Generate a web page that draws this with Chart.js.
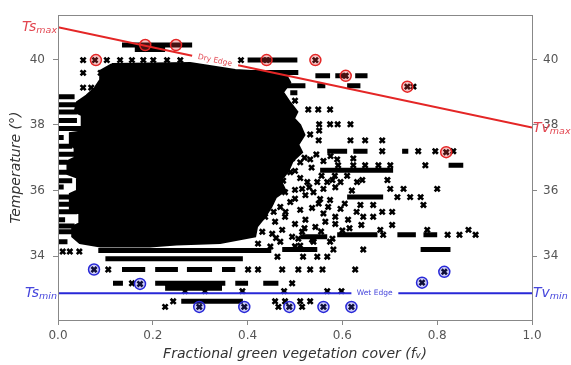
<!DOCTYPE html>
<html>
<head>
<meta charset="utf-8">
<script src="https://cdn.jsdelivr.net/npm/chart.js@4.4.0/dist/chart.umd.min.js"></script>
<style>html,body{margin:0;padding:0;background:#fff}</style>
</head>
<body>
<canvas id="c" width="571" height="365"></canvas>
<script>
// axis ticks
const xTicks = [0, 0.2, 0.4, 0.6, 0.8, 1.0];
const yTicks = [34, 36, 38, 40];

// dry edge (red) and wet edge (blue), broken where the label sits
const dryEdgeX = [0, 0.283, 0.38, 1];
const dryEdgeY = [40.98, 40.11, 39.82, 37.92];
const wetEdgeX = [0, 0.619, 0.718, 1];
const wetEdgeY = [32.87, 32.87, 32.87, 32.87];

// outline of the solid black cloud of pixels
const blob = [
  [0.114, 39.86], [0.279, 39.89], [0.374, 39.68], [0.479, 39.59], [0.49, 39.3], [0.475, 39.0],
  [0.49, 38.68], [0.505, 38.4], [0.498, 38.2], [0.511, 38.0], [0.52, 37.7], [0.507, 37.4],
  [0.515, 37.17], [0.495, 36.9], [0.486, 36.6], [0.47, 36.3], [0.48, 36.0], [0.46, 35.8],
  [0.45, 35.5], [0.437, 35.2], [0.42, 34.9], [0.416, 34.6], [0.342, 34.4], [0.25, 34.35],
  [0.194, 34.29], [0.089, 34.29], [0.046, 34.4], [0.03, 34.6], [0.03, 34.9], [0.045, 35.0],
  [0.045, 35.3], [0.025, 35.4], [0.025, 35.9], [0.04, 36.0], [0.04, 36.4], [0.02, 36.5],
  [0.02, 36.9], [0.035, 37.0], [0.035, 37.3], [0.025, 37.4], [0.025, 37.75], [0.05, 37.8],
  [0.05, 38.3], [0.035, 38.4], [0.04, 38.7], [0.06, 38.9], [0.078, 39.14], [0.09, 39.4],
  [0.089, 39.65], [0.114, 39.86]
];

// rows of overlapping markers [xStart, xEnd, y]
const bands = [
  [0.135, 0.283, 40.44], [0.162, 0.226, 40.3], [0.40, 0.505, 39.98], [0.378, 0.507, 39.6],
  [0.543, 0.574, 39.5], [0.585, 0.61, 39.5], [0.627, 0.653, 39.5],
  [0.475, 0.522, 39.2], [0.547, 0.564, 39.2], [0.61, 0.638, 39.2], [0.49, 0.505, 38.98],
  [0.568, 0.61, 37.2], [0.623, 0.653, 37.2], [0.726, 0.739, 37.2], [0.824, 0.855, 36.77],
  [0.553, 0.707, 36.62], [0.61, 0.686, 35.8],
  [0.589, 0.674, 34.65], [0.716, 0.755, 34.65], [0.771, 0.80, 34.65], [0.511, 0.568, 34.59],
  [0.765, 0.828, 34.2], [0.473, 0.547, 34.2], [0.085, 0.45, 34.17], [0.10, 0.39, 33.92],
  [0.135, 0.184, 33.59], [0.205, 0.253, 33.59], [0.272, 0.325, 33.59], [0.346, 0.374, 33.59],
  [0.116, 0.137, 33.17], [0.205, 0.353, 33.17], [0.374, 0.401, 33.17], [0.433, 0.465, 33.17],
  [0.226, 0.346, 33.02], [0.26, 0.39, 32.62]
];
const leftStreaks = [
  [0, 0.035, 38.86], [0, 0.045, 38.62], [0, 0.04, 38.4], [0, 0.04, 38.14], [0, 0.06, 37.89],
  [0, 0.012, 37.62], [0, 0.03, 37.35], [0, 0.05, 37.11], [0, 0.02, 36.86], [0, 0.07, 36.56],
  [0, 0.03, 36.3], [0, 0.012, 36.11], [0, 0.03, 35.8], [0, 0.05, 35.58], [0, 0.04, 35.35],
  [0, 0.015, 35.11], [0, 0.035, 34.92], [0, 0.06, 34.74], [0, 0.02, 34.44]
];

// single pixels
const topPoints = [
  [0.053, 39.98], [0.078, 39.98], [0.103, 39.98], [0.131, 39.98], [0.156, 39.98], [0.18, 39.98],
  [0.201, 39.98], [0.23, 39.98], [0.258, 39.98], [0.053, 39.59], [0.09, 39.59], [0.053, 39.14],
  [0.07, 39.14], [0.386, 39.98], [0.44, 39.98], [0.543, 39.98], [0.607, 39.5], [0.737, 39.17],
  [0.75, 39.17], [0.50, 38.74], [0.528, 38.47], [0.549, 38.47], [0.574, 38.47],
  [0.551, 38.02], [0.574, 38.02], [0.59, 38.02], [0.617, 38.02], [0.551, 37.83], [0.532, 37.71],
  [0.55, 37.53], [0.617, 37.53], [0.648, 37.53], [0.684, 37.53],
  [0.684, 37.2], [0.76, 37.2], [0.796, 37.2], [0.819, 37.17], [0.834, 37.2]
];
const rightPoints = [
  [0.591, 36.77], [0.623, 36.77], [0.648, 36.77], [0.676, 36.77], [0.701, 36.77], [0.775, 36.77],
  [0.579, 36.32], [0.642, 36.32], [0.695, 36.32], [0.701, 36.05], [0.729, 36.05], [0.80, 36.05],
  [0.716, 35.8], [0.743, 35.8], [0.765, 35.8], [0.638, 35.56], [0.665, 35.56], [0.771, 35.56],
  [0.684, 35.35], [0.705, 35.35], [0.644, 35.2], [0.665, 35.2], [0.705, 34.95],
  [0.68, 34.8], [0.779, 34.8], [0.866, 34.8], [0.686, 34.65], [0.822, 34.65], [0.847, 34.65],
  [0.881, 34.65], [0.581, 34.2], [0.644, 34.2]
];
const fringePoints = [
  [0.475, 37.11], [0.494, 36.98], [0.511, 36.86], [0.532, 36.95], [0.589, 36.95], [0.623, 36.98],
  [0.469, 36.71], [0.49, 36.56], [0.511, 36.38], [0.526, 36.26], [0.547, 36.26], [0.568, 36.26],
  [0.596, 36.26], [0.631, 36.26], [0.458, 36.11], [0.479, 35.95], [0.50, 36.02], [0.522, 35.86],
  [0.539, 35.95], [0.448, 35.65], [0.469, 35.5], [0.49, 35.65], [0.511, 35.41], [0.536, 35.47],
  [0.553, 35.74], [0.574, 35.71], [0.596, 35.44], [0.437, 35.2], [0.458, 35.05], [0.479, 35.2],
  [0.50, 34.98], [0.522, 35.11], [0.543, 34.89], [0.564, 35.05], [0.585, 34.98], [0.612, 35.11],
  [0.431, 34.74], [0.452, 34.68], [0.473, 34.8], [0.494, 34.59], [0.515, 34.74], [0.536, 34.5],
  [0.422, 34.38], [0.448, 34.29], [0.469, 34.44], [0.511, 34.32], [0.539, 34.44], [0.574, 34.44],
  [0.52, 37.0], [0.545, 37.1], [0.56, 36.9], [0.575, 37.05], [0.535, 36.7], [0.556, 36.45],
  [0.584, 36.45], [0.61, 36.45], [0.53, 36.1], [0.56, 36.05], [0.585, 36.1], [0.62, 36.0],
  [0.55, 35.6], [0.57, 35.5], [0.605, 35.6], [0.63, 35.35], [0.56, 35.3], [0.585, 35.2],
  [0.615, 34.85], [0.64, 34.95], [0.555, 34.75], [0.6, 34.78], [0.5, 34.3], [0.52, 34.85],
  [0.46, 34.55], [0.48, 35.35], [0.5, 35.75], [0.455, 35.35], [0.475, 36.3], [0.5, 36.6], [0.515, 36.05]
];
const lowPoints = [
  [0.01, 34.14], [0.025, 34.14], [0.045, 34.14], [0.053, 34.53], [0.507, 34.53], [0.539, 34.53],
  [0.579, 34.53], [0.463, 33.98], [0.517, 33.98], [0.547, 33.98], [0.568, 33.98],
  [0.076, 33.59], [0.106, 33.59], [0.401, 33.59], [0.422, 33.59], [0.473, 33.59], [0.507, 33.59],
  [0.532, 33.59], [0.558, 33.59], [0.627, 33.59], [0.156, 33.17], [0.173, 33.15], [0.494, 33.17],
  [0.268, 32.93], [0.31, 32.93], [0.389, 32.93], [0.477, 32.93], [0.568, 32.93], [0.598, 32.93],
  [0.243, 32.62], [0.458, 32.62], [0.479, 32.62], [0.511, 32.62], [0.532, 32.62],
  [0.226, 32.45], [0.298, 32.45], [0.393, 32.45], [0.465, 32.45], [0.488, 32.45], [0.515, 32.45],
  [0.56, 32.45], [0.619, 32.45], [0.768, 33.19], [0.815, 33.52]
];

// highlighted extremes
const dryPoints = [[0.08, 39.98], [0.184, 40.44], [0.249, 40.44], [0.44, 39.98], [0.543, 39.98],
  [0.607, 39.5], [0.737, 39.17], [0.819, 37.17]];
const wetPoints = [[0.076, 33.59], [0.173, 33.15], [0.298, 32.45], [0.393, 32.45], [0.488, 32.45],
  [0.56, 32.45], [0.619, 32.45], [0.768, 33.19], [0.815, 33.52]];

const RED = 'rgb(228,38,38)';
const BLUE = 'rgb(40,40,215)';
const FONT = 'DejaVu Sans';

const xy = arr => arr.map(p => ({ x: p[0], y: p[1] }));
const seg = (xs, ys) => xs.map((x, i) => ({ x, y: ys[i] }));
const segs = list => {
  const out = [];
  list.forEach(b => { out.push({ x: b[0], y: b[2] }, { x: b[1], y: b[2] }, { x: b[1], y: null }); });
  return out;
};

const markerStyle = { showLine: false, pointStyle: 'crossRot', pointRadius: 3.6, pointBorderWidth: 2.6,
  borderColor: '#000', backgroundColor: '#000', order: 3 };
const bandStyle = { showLine: true, borderColor: '#000', borderWidth: 5, pointRadius: 0, spanGaps: false,
  tension: 0, order: 4 };

const datasets = [
  { data: seg(dryEdgeX.slice(0, 2), dryEdgeY.slice(0, 2)), showLine: true, borderColor: RED, borderWidth: 2, pointRadius: 0, order: 0 },
  { data: seg(dryEdgeX.slice(2), dryEdgeY.slice(2)), showLine: true, borderColor: RED, borderWidth: 2, pointRadius: 0, order: 0 },
  { data: seg(wetEdgeX.slice(0, 2), wetEdgeY.slice(0, 2)), showLine: true, borderColor: BLUE, borderWidth: 2, pointRadius: 0, order: 0 },
  { data: seg(wetEdgeX.slice(2), wetEdgeY.slice(2)), showLine: true, borderColor: BLUE, borderWidth: 2, pointRadius: 0, order: 0 },
  { data: xy(dryPoints), pointStyle: 'circle', pointRadius: 5.5, pointBorderWidth: 1.5,
    borderColor: RED, backgroundColor: 'rgba(228,60,60,0.3)', order: 1 },
  { data: xy(wetPoints), pointStyle: 'circle', pointRadius: 5.5, pointBorderWidth: 1.5,
    borderColor: BLUE, backgroundColor: 'rgba(60,60,228,0.25)', order: 1 },
  Object.assign({ data: xy(topPoints.concat(rightPoints, fringePoints, lowPoints)) }, markerStyle),
  Object.assign({ data: segs(bands.concat(leftStreaks)) }, bandStyle),
  { data: xy(blob), showLine: true, fill: 'shape', tension: 0, borderColor: '#000', backgroundColor: '#000',
    borderWidth: 2, pointRadius: 0, order: 5 }
];

const tickFont = { family: FONT, size: 12 };
const yAxis = (pos, width) => ({
  type: 'linear', position: pos, min: 32.05, max: 41.35,
  afterBuildTicks: s => { s.ticks = yTicks.map(v => ({ value: v })); },
  afterFit: s => { s.width = width; },
  ticks: { color: '#555', font: tickFont, padding: pos === 'left' ? 8 : 6, callback: v => String(v) },
  grid: { drawOnChartArea: false, tickLength: 5, color: '#888' },
  border: { display: false }
});

// frame, edge names and Ts/Tv labels
const labelPlugin = {
  id: 'edgeLabels',
  afterDatasetsDraw(chart) {
    const { ctx, chartArea: a, scales } = chart;
    const x = scales.x, y = scales.y;
    ctx.save();
    ctx.strokeStyle = '#888';
    ctx.lineWidth = 1;
    ctx.strokeRect(Math.round(a.left) + 0.5, Math.round(a.top) + 0.5, Math.round(a.right - a.left), Math.round(a.bottom - a.top));

    const sub = (px, py, main, s, color, alignRight) => {
      ctx.fillStyle = color;
      ctx.textBaseline = 'alphabetic';
      ctx.textAlign = 'left';
      ctx.font = 'italic 14px "' + FONT + '"';
      const w1 = ctx.measureText(main).width;
      ctx.font = 'italic 9.5px "' + FONT + '"';
      const w2 = ctx.measureText(s).width;
      const x0 = alignRight ? px - w1 - w2 : px;
      ctx.font = 'italic 14px "' + FONT + '"';
      ctx.fillText(main, x0, py + 4);
      ctx.font = 'italic 9.5px "' + FONT + '"';
      ctx.fillText(s, x0 + w1, py + 6);
    };
    const redText = 'rgb(226,70,80)', blueText = 'rgb(70,70,220)';
    sub(a.left - 1, y.getPixelForValue(dryEdgeY[0]), 'Ts', 'max', redText, true);
    sub(a.right + 1, y.getPixelForValue(dryEdgeY[3]), 'Tv', 'max', redText, false);
    sub(a.left - 1, y.getPixelForValue(wetEdgeY[0]), 'Ts', 'min', blueText, true);
    sub(a.right + 1, y.getPixelForValue(wetEdgeY[3]), 'Tv', 'min', blueText, false);

    const x0 = x.getPixelForValue(dryEdgeX[0]), y0 = y.getPixelForValue(dryEdgeY[0]);
    const x1 = x.getPixelForValue(dryEdgeX[3]), y1 = y.getPixelForValue(dryEdgeY[3]);
    const ang = Math.atan2(y1 - y0, x1 - x0);
    const cx = x.getPixelForValue(0.331);
    const cy = y0 + (cx - x0) * Math.tan(ang);
    ctx.font = '7.5px "' + FONT + '"';
    ctx.textAlign = 'center';
    ctx.textBaseline = 'middle';
    ctx.fillStyle = redText;
    ctx.translate(cx, cy);
    ctx.rotate(ang);
    ctx.fillText('Dry Edge', 0, 0);
    ctx.setTransform(1, 0, 0, 1, 0, 0);
    ctx.fillStyle = blueText;
    ctx.fillText('Wet Edge', x.getPixelForValue(0.668), y.getPixelForValue(wetEdgeY[0]));
    ctx.restore();
  }
};

new Chart(document.getElementById('c'), {
  type: 'scatter',
  data: { datasets },
  options: {
    responsive: false,
    animation: false,
    layout: { padding: { top: 12 } },
    plugins: { legend: { display: false }, tooltip: { enabled: false } },
    scales: {
      x: {
        type: 'linear', min: 0, max: 1,
        afterBuildTicks: s => { s.ticks = xTicks.map(v => ({ value: v })); },
        afterFit: s => { s.height = 45; },
        ticks: { color: '#555', font: tickFont, padding: 4, maxRotation: 0, callback: v => v.toFixed(1) },
        grid: { drawOnChartArea: false, tickLength: 5, color: '#888' },
        border: { display: false },
        title: { display: true, text: 'Fractional green vegetation cover (fᵥ)', color: '#333',
          font: { family: FONT, size: 14, style: 'italic' }, padding: { top: 0, bottom: 2.6 } }
      },
      y: Object.assign(yAxis('left', 58), {
        title: { display: true, text: 'Temperature (°)', color: '#333',
          font: { family: FONT, size: 14, style: 'italic' }, padding: { top: 7.6, bottom: 0 } }
      }),
      y2: yAxis('right', 39)
    }
  },
  plugins: [labelPlugin]
});
</script>
</body>
</html>
